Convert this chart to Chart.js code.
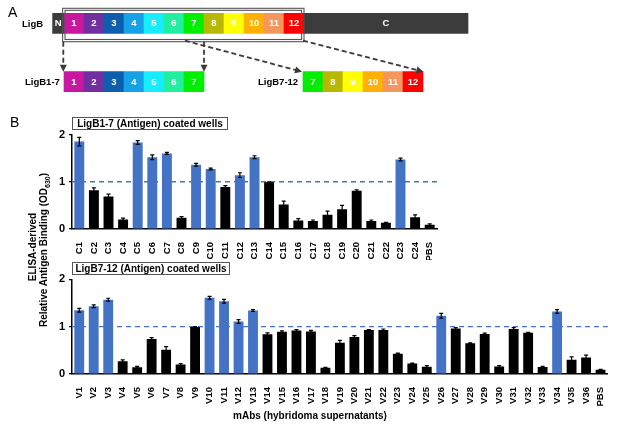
<!DOCTYPE html>
<html>
<head>
<meta charset="utf-8">
<script src="https://cdn.jsdelivr.net/npm/chart.js@4.4.1/dist/chart.umd.min.js"></script>
<style>
body{margin:0;background:#fff;font-family:"Liberation Sans",Arial,sans-serif;}
#wrap{position:relative;width:617px;height:428px;overflow:hidden;}
canvas{position:absolute;left:0;}
.t{position:absolute;color:#000;white-space:nowrap;line-height:1;}
.b{font-weight:bold;}
.box{position:absolute;border:1px solid #555;font-weight:bold;font-size:10px;text-align:center;line-height:11px;height:13px;box-sizing:border-box;}
.rot{transform:translate(-50%,-50%) rotate(-90deg);}
</style>
</head>
<body>
<div id="wrap">
  <canvas id="domains" width="617" height="100" style="top:0"></canvas>
  <canvas id="chartC" width="617" height="150" style="top:110px"></canvas>
  <canvas id="chartV" width="617" height="173" style="top:255px"></canvas>

  <div class="t" style="left:8px;top:5px;font-size:14px">A</div>
  <div class="t b" style="left:22px;top:19px;font-size:9.5px">LigB</div>
  <div class="t b" style="left:25px;top:77px;font-size:9.5px">LigB1-7</div>
  <div class="t b" style="left:258px;top:77px;font-size:9.5px">LigB7-12</div>

  <div class="t" style="left:10px;top:115px;font-size:14px">B</div>
  <div class="box" style="left:72px;top:117px;width:156px">LigB1-7 (Antigen) coated wells</div>
  <div class="box" style="left:72px;top:262px;width:158px">LigB7-12 (Antigen) coated wells</div>

  <div class="t b rot" style="left:33px;top:247px;font-size:10px">ELISA-derived</div>
  <div class="t b rot" style="left:45px;top:250px;font-size:10px">Relative Antigen Binding (OD<sub style="font-size:7px">630</sub>)</div>
  <div class="t b" style="left:310px;top:411px;font-size:10px;transform:translateX(-50%)">mAbs (hybridoma supernatants)</div>
</div>

<script>
// ---- panel A: LigB domain map (x in units of one Ig-like domain) ----
const domainNames = ['1','2','3','4','5','6','7','8','9','10','11','12']
const domainColors = ['#c8189f','#7030a0','#0d5fae','#15a2e6','#18ecff','#22eea0','#00ee00',
                      '#b8b800','#ffff00','#ffb000','#f5975c','#ff0000']
const terminusColor = '#3c3c3c'
const nStart = -0.57   // N-terminal end of LigB
const cEnd = 20.2      // C-terminal end of LigB
const b7Offset = 5.95  // LigB7-12 drawn shifted right

// ---- panel B data ----
const cLabels = ['C1','C2','C3','C4','C5','C6','C7','C8','C9','C10','C11','C12','C13','C14','C15',
                 'C16','C17','C18','C19','C20','C21','C22','C23','C24','PBS']
const cValues = [1.85,0.82,0.69,0.20,1.83,1.52,1.60,0.24,1.36,1.27,0.89,1.14,1.52,0.99,0.52,
                 0.18,0.17,0.30,0.42,0.81,0.17,0.13,1.47,0.25,0.09]
const cErrors = [0.09,0.05,0.05,0.03,0.04,0.05,0.02,0.02,0.03,0.02,0.03,0.05,0.03,0.01,0.07,
                 0.04,0.02,0.08,0.08,0.02,0.02,0.01,0.03,0.05,0.02]

const vLabels = ['V1','V2','V3','V4','V5','V6','V7','V8','V9','V10','V11','V12','V13','V14','V15',
                 'V16','V17','V18','V19','V20','V21','V22','V23','V24','V25','V26','V27','V28',
                 'V29','V30','V31','V32','V33','V34','V35','V36','PBS']
const vValues = [1.345,1.43,1.57,0.27,0.14,0.74,0.51,0.20,0.99,1.61,1.535,1.11,1.34,0.84,0.89,
                 0.92,0.90,0.13,0.66,0.78,0.93,0.93,0.43,0.22,0.155,1.23,0.96,0.65,
                 0.845,0.16,0.95,0.87,0.15,1.32,0.30,0.35,0.09]
const vErrors = [0.04,0.03,0.03,0.03,0.02,0.03,0.07,0.02,0.01,0.03,0.04,0.04,0.02,0.03,0.02,
                 0.02,0.02,0.01,0.05,0.03,0.01,0.02,0.01,0.01,0.02,0.05,0.02,0.01,
                 0.02,0.02,0.03,0.01,0.01,0.04,0.06,0.05,0.01]

const threshold = 1
const blue = '#4472c4'
const FONT = 'Liberation Sans'

// build segments of the domain map
const segs = []
const segColors = []
const segText = []
segs.push({x:[nStart,0], y:'LigB'}); segColors.push(terminusColor); segText.push('N')
domainNames.forEach((n, i) => {
    segs.push({x:[i, i+1], y:'LigB'}); segColors.push(domainColors[i]); segText.push(n)
})
segs.push({x:[12,cEnd], y:'LigB'}); segColors.push(terminusColor); segText.push('C')
for(let i = 0; i < 7; i++){
    segs.push({x:[i, i+1], y:'frag'}); segColors.push(domainColors[i]); segText.push(domainNames[i])
}
for(let i = 6; i < 12; i++){
    segs.push({x:[i+b7Offset, i+1+b7Offset], y:'frag'}); segColors.push(domainColors[i]); segText.push(domainNames[i])
}

function arrow(ctx, x1, y1, x2, y2){
    ctx.save()
    ctx.strokeStyle = '#3a3a3a'
    ctx.fillStyle = '#3a3a3a'
    ctx.lineWidth = 1.8
    ctx.setLineDash([5,3])
    const a = Math.atan2(y2-y1, x2-x1)
    ctx.beginPath()
    ctx.moveTo(x1, y1)
    ctx.lineTo(x2 - 6*Math.cos(a), y2 - 6*Math.sin(a))
    ctx.stroke()
    ctx.setLineDash([])
    ctx.beginPath()
    ctx.moveTo(x2, y2)
    ctx.lineTo(x2 - 7*Math.cos(a) + 3.5*Math.sin(a), y2 - 7*Math.sin(a) - 3.5*Math.cos(a))
    ctx.lineTo(x2 - 7*Math.cos(a) - 3.5*Math.sin(a), y2 - 7*Math.sin(a) + 3.5*Math.cos(a))
    ctx.closePath()
    ctx.fill()
    ctx.restore()
}

const mapDecor = {
    id: 'mapDecor',
    afterDatasetsDraw(chart){
        const ctx = chart.ctx
        const xs = chart.scales.x, ys = chart.scales.y
        const els = chart.getDatasetMeta(0).data
        // labels inside segments
        ctx.save()
        ctx.fillStyle = '#fff'
        ctx.font = `bold 9.5px "${FONT}"`
        ctx.textAlign = 'center'
        ctx.textBaseline = 'middle'
        els.forEach((el, i) => {
            ctx.fillText(segText[i], (el.x + el.base)/2, el.y + 0.5)
        })
        ctx.restore()
        // double box around domains 1-12
        const r0 = ys.getPixelForValue(0), r2 = ys.getPixelForValue(2)
        ctx.save()
        ctx.strokeStyle = '#555'
        ctx.lineWidth = 1.1
        ctx.strokeRect(xs.getPixelForValue(-0.07), r0 - 15, xs.getPixelForValue(12.0) - xs.getPixelForValue(-0.07), 33.4)
        ctx.strokeRect(xs.getPixelForValue(0.05), r0 - 13, xs.getPixelForValue(11.88) - xs.getPixelForValue(0.05), 29.2)
        ctx.restore()
        const yTop = r0 + 18.4, yBot = r2 - 10
        arrow(ctx, xs.getPixelForValue(-0.035), yTop, xs.getPixelForValue(-0.035), yBot)
        arrow(ctx, xs.getPixelForValue(7), yTop, xs.getPixelForValue(7), yBot)
        arrow(ctx, xs.getPixelForValue(6.05), yTop - 1, xs.getPixelForValue(11.9), yBot)
        arrow(ctx, xs.getPixelForValue(11.95), yTop - 1, xs.getPixelForValue(17.97), yBot)
    }
}

new Chart(document.getElementById('domains'), {
    type: 'bar',
    data: {
        labels: ['LigB', 'gap', 'frag'],
        datasets: [{
            data: segs,
            backgroundColor: segColors,
            borderWidth: 0,
            barThickness: 20
        }]
    },
    options: {
        indexAxis: 'y',
        responsive: false,
        animation: false,
        layout: {padding: {left: 4, right: 13, top: 8.7, bottom: 3.7}},
        plugins: {legend: {display: false}, tooltip: {enabled: false}},
        scales: {
            x: {type: 'linear', min: -3, max: 27, display: false},
            y: {type: 'category', display: false}
        }
    },
    plugins: [mapDecor]
})

// dashed threshold line (behind bars) + error bars (on top)
const barDecor = {
    id: 'barDecor',
    beforeDatasetsDraw(chart){
        const {ctx, chartArea} = chart
        const y = chart.scales.y.getPixelForValue(threshold)
        ctx.save()
        ctx.strokeStyle = blue
        ctx.lineWidth = 1.3
        ctx.setLineDash([5,4])
        ctx.beginPath()
        ctx.moveTo(chartArea.left, y)
        ctx.lineTo(chartArea.right, y)
        ctx.stroke()
        ctx.restore()
    },
    afterDatasetsDraw(chart){
        const ctx = chart.ctx
        const ys = chart.scales.y
        const ds = chart.data.datasets[0]
        ctx.save()
        ctx.strokeStyle = '#000'
        ctx.lineWidth = 1.2
        chart.getDatasetMeta(0).data.forEach((el, i) => {
            const v = ds.data[i], e = ds.errors[i]
            const t = ys.getPixelForValue(v + e), b = ys.getPixelForValue(Math.max(0, v - e))
            ctx.beginPath()
            ctx.moveTo(el.x, b); ctx.lineTo(el.x, t)
            ctx.moveTo(el.x - 2, t); ctx.lineTo(el.x + 2, t)
            ctx.moveTo(el.x - 2, b); ctx.lineTo(el.x + 2, b)
            ctx.stroke()
        })
        ctx.restore()
    }
}

function makeChart(id, labels, values, errors, padRight, padTop, xHeight){
    return new Chart(document.getElementById(id), {
        type: 'bar',
        data: {
            labels,
            datasets: [{
                data: values,
                errors,
                backgroundColor: values.map(v => v > threshold ? blue : '#000'),
                borderWidth: 0,
                barPercentage: 0.68,
                categoryPercentage: 1
            }]
        },
        options: {
            responsive: false,
            animation: false,
            layout: {padding: {left: 0, right: padRight, top: padTop, bottom: 0}},
            plugins: {legend: {display: false}, tooltip: {enabled: false}},
            scales: {
                x: {
                    grid: {display: false},
                    border: {color: '#000', width: 1.5},
                    ticks: {
                        autoSkip: false, maxRotation: 90, minRotation: 90, padding: 5,
                        color: '#000', font: {family: FONT, weight: 'bold', size: 9.5}
                    },
                    afterFit: s => { s.height = xHeight }
                },
                y: {
                    min: 0, max: 2,
                    grid: {display: true, drawOnChartArea: false, tickLength: 3, color: '#000', lineWidth: 1.2},
                    border: {color: '#000', width: 1.5},
                    ticks: {
                        stepSize: 1, padding: 4,
                        color: '#000', font: {family: FONT, weight: 'bold', size: 11}
                    },
                    afterFit: s => { s.width = 72 }
                }
            }
        },
        plugins: [barDecor]
    })
}

makeChart('chartC', cLabels, cValues, cErrors, 180, 24.5, 31)
makeChart('chartV', vLabels, vValues, vErrors, 4, 24.3, 54)
</script>
</body>
</html>
